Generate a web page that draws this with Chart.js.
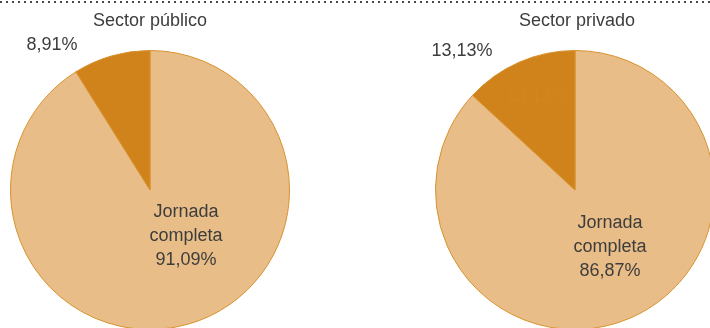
<!DOCTYPE html>
<html>
<head>
<meta charset="utf-8">
<script src="https://cdn.jsdelivr.net/npm/chart.js@4/dist/chart.umd.min.js"></script>
<style>
  html, body { margin: 0; padding: 0; background: #fff; overflow: hidden; }
  #wrap { position: relative; width: 710px; height: 328px; overflow: hidden; background: #fff; }
  #dots { position: absolute; left: 0; top: 1px; width: 710px; height: 2px; z-index: 2;
          background: repeating-linear-gradient(to right, #4a4a4a 0 2px, transparent 2px 6px); }
</style>
</head>
<body>
<div id="wrap">
  <div id="dots"></div>
  <div style="position:absolute;left:0;top:0;width:300px;height:330px;"><canvas id="c1"></canvas></div>
  <div style="position:absolute;left:380px;top:0;width:390px;height:330px;"><canvas id="c2"></canvas></div>
</div>
<script>
const sectors = ['Sector público', 'Sector privado'];
const categories = ['Jornada completa', 'Jornada parcial'];
const publico = [91.09, 8.91];
const privado = [86.87, 13.13];
const colors = ['#e9bd87', '#d0831b'];

function fmt(v) { return v.toFixed(2).replace('.', ',') + '%'; }

function makePie(id, title, values, cfg) {
  const textPlugin = {
    id: 'texts',
    afterDraw(chart) {
      const ctx = chart.ctx;
      const arc = chart.getDatasetMeta(0).data[0];
      const cx = arc.x, cy = arc.y;
      ctx.save();
      ctx.textAlign = 'center';
      ctx.textBaseline = 'middle';
      ctx.font = '18px "Liberation Sans", Arial, sans-serif';
      ctx.fillStyle = '#3d3d3d';
      ctx.fillText(title, cx + cfg.titleDx, 21);
      ctx.fillText(fmt(values[1]), cx + cfg.smallDx, cfg.smallY);
      const words = categories[0].split(' ');
      ctx.fillText(words[0], cx + cfg.innerDx, cy + cfg.innerDy);
      ctx.fillText(words[1], cx + cfg.innerDx, cy + cfg.innerDy + 24);
      ctx.fillText(fmt(values[0]), cx + cfg.innerDx, cy + cfg.innerDy + 48);
      if (cfg.ghost) {
        ctx.fillStyle = 'rgba(230,160,70,0.12)';
        ctx.fillText(fmt(values[1]), cx + cfg.ghost[0], cy + cfg.ghost[1]);
      }
      ctx.restore();
    }
  };
  return new Chart(document.getElementById(id), {
    type: 'pie',
    data: {
      labels: categories,
      datasets: [{
        data: values,
        backgroundColor: colors,
        borderColor: '#d8922f',
        borderWidth: 1,
        hoverOffset: 0
      }]
    },
    options: {
      responsive: true,
      maintainAspectRatio: false,
      animation: false,
      events: [],
      layout: { padding: cfg.padding },
      plugins: { legend: { display: false }, tooltip: { enabled: false }, title: { display: false } }
    },
    plugins: [textPlugin]
  });
}

makePie('c1', sectors[0], publico, { padding: { top: 50, bottom: 0, left: 10, right: 10 },
  titleDx: 0, smallDx: -98, smallY: 45, innerDx: 36, innerDy: 22 });
makePie('c2', sectors[1], privado, { padding: { top: 50, bottom: 0, left: 55, right: 55 },
  titleDx: 2, smallDx: -113, smallY: 51, innerDx: 35, innerDy: 33, ghost: [-38, -93] });
</script>
</body>
</html>
